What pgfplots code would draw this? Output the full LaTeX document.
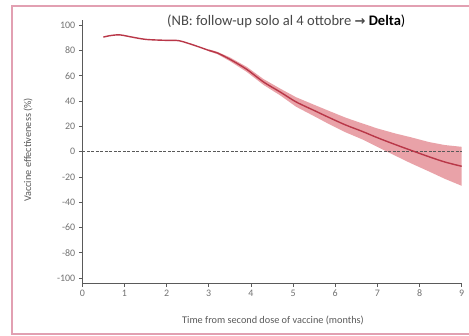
\documentclass[border=0pt]{standalone}
\usepackage{pgfplots}
\pgfplotsset{compat=1.18}
\usepackage{fontspec}
\setmainfont{Carlito}
\newfontfamily\dejavu{DejaVu Sans}
\definecolor{framepink}{RGB}{226,160,178}
\definecolor{curvered}{RGB}{185,55,72}
\definecolor{bandred}{RGB}{226,132,140}
\definecolor{axisgray}{RGB}{90,90,90}
\definecolor{ticktext}{RGB}{115,115,115}
\begin{document}
\begin{tikzpicture}
\fill[white] (0,0) rectangle (469bp,336bp);
\draw[framepink, line width=1.5bp] (12bp,2bp) rectangle (480bp,330bp);
\begin{axis}[
  at={(82.3bp,53bp)}, anchor=south west,
  scale only axis, width=379.4bp, height=263bp,
  xmin=0, xmax=9, ymin=-103.8, ymax=104,
  axis x line*=bottom, axis y line*=left,
  axis line style={axisgray, line width=0.9bp},
  xtick={0,1,...,9}, ytick={-100,-80,...,100},
  tick align=outside, major tick length=3.5bp,
  tick style={axisgray, line width=0.8bp},
  /pgf/number format/assume math mode=true,
  ticklabel style={font=\fontsize{10}{11}\selectfont, text=ticktext},
  clip=false,
]
\addplot[fill=bandred, fill opacity=0.75, draw=none] coordinates {
(3.0,80.8) (3.2,78.9) (3.5,74.5) (3.9,67) (4.3,57.3) (4.7,49.7) (5.07,43)
(5.5,37) (5.85,32.2) (6.25,26.8) (6.64,22.3) (7.0,18.3) (7.43,14.3)
(7.8,11.3) (8.22,7.6) (8.6,5.2) (9.0,3.8)
(9.0,-27) (8.6,-21.5) (8.22,-15.6) (7.8,-9.3) (7.43,-3.3) (7.0,3.7)
(6.64,9.7) (6.25,15.2) (5.85,21.8) (5.5,28) (5.07,35.5) (4.7,44.3)
(4.3,52.7) (3.9,63) (3.5,71.5) (3.2,77.1) (3.0,79.2)} -- cycle;
\addplot[black!65, dash pattern=on 3bp off 1.5bp, line width=0.7bp] coordinates {(0,0) (9,0)};
\addplot[curvered, line width=1.4bp, smooth] coordinates {
(0.5,90.5) (0.65,91.6) (0.88,92.3) (1.1,91) (1.5,88.7) (2.0,87.9) (2.3,87.6)
(2.7,83.5) (3.0,80) (3.2,78) (3.5,73) (3.9,65) (4.3,55) (4.7,47) (5.07,39.3)
(5.5,32.5) (5.85,27) (6.25,21) (6.64,16) (7.0,11) (7.43,5.5) (7.8,1)
(8.22,-4) (8.6,-8.2) (9.0,-11.6)};
\end{axis}
\node[font=\fontsize{10.3}{11}\selectfont, text=axisgray] at (273bp,16bp) {Time from second dose of vaccine (months)};
\node[font=\fontsize{10.3}{11}\selectfont, text=axisgray, rotate=90] at (28bp,186bp) {Vaccine effectiveness (\%)};
\node[anchor=base west, inner sep=0pt, font=\fontsize{14.6}{16}\selectfont, text=black!72] at (167bp,310bp) {(NB: follow-up solo al 4 ottobre {\dejavu\bfseries\fontsize{13}{14}\selectfont →} \textcolor{black}{\textbf{Delta})}};
\pgfresetboundingbox
\path[use as bounding box] (0,0) rectangle (469bp,336bp);
\end{tikzpicture}
\end{document}
